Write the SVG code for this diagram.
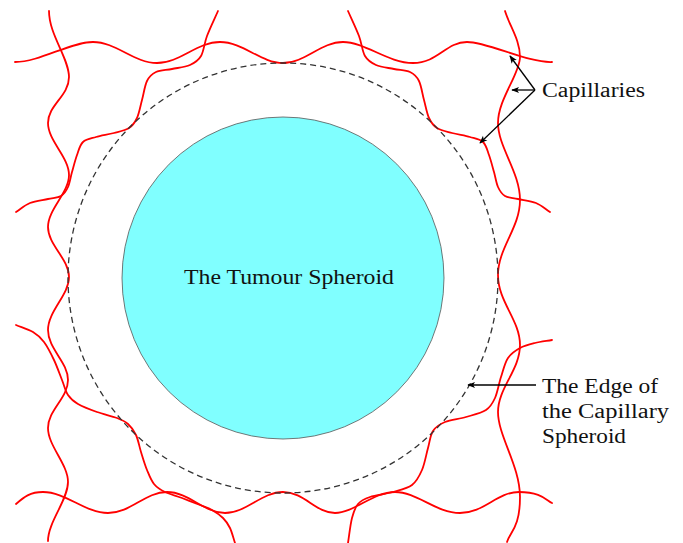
<svg xmlns="http://www.w3.org/2000/svg" width="683" height="543" viewBox="0 0 683 543">
<style>
.cap{fill:none;stroke:#ff0000;stroke-width:1.8;stroke-linecap:round;stroke-linejoin:round}
.lbl{font-family:"Liberation Serif","Times New Roman",serif;font-size:20px;fill:#111}
.arrow{fill:none;stroke:#000;stroke-width:1.3;marker-end:url(#arr)}
</style>
<defs>
<marker id="arr" viewBox="0 0 10 10" refX="9" refY="5" markerWidth="8" markerHeight="8" markerUnits="userSpaceOnUse" orient="auto">
<path d="M0,1 L10,5 L0,9 L2.5,5 z" fill="#000"/>
</marker>
</defs>
<rect width="683" height="543" fill="#fff"/>

<g id="capillaries">
<path class="cap" d="M15,62 C40,62 70,42 93,42 S134,63 157,63 S197,42 220,42 S261,63 283,63 S321,42 343,42 S388,63 413,63 S446,42 467,42 S528,63 552,62"/>
<path class="cap" d="M16,504 C24,497 30,492 43,492 C66,492 85,513 108,513 S145,492 167,492 S204,513 225,513 S262,492 283,492 S316,513 335,513 S373,492 395,492 S436,513 460,513 S497,492 519,492 S546,500 552,503"/>
<path class="cap" d="M49,11 C49,35 69,58 69,77 S48,105 48,123 S69,157 69,175 S48,209 48,227 S69,259 69,277 S48,311 48,330 S68,362 68,380 S48,410 48,428 S68,464 68,482 S48,522 48,541"/>
<path class="cap" d="M505,11 C510,27 520,40 520,57 S498,99 498,123 S520,172 520,200 S498,248 498,275 S520,320 520,345 S498,388 498,412 S520,466 520,497 S510,532 507,542"/>
<path id="stl" class="cap" d="M218,11 C214.3,19.3 209.8,28.5 207,36 S203.8,51.2 201,56 S194.8,62.8 190,65 S177.7,67.8 172,69 S160.2,70 156,72 S149.3,76.3 147,81 S143.7,93.8 142,100 S139.2,113.3 137,118 S132.8,125.5 129,128 S119.5,131.5 114,133 S101.2,135.5 96,137 S86.2,139 83,142 S78.8,150 77,155 S73.5,166.7 72,172 S69.8,183 68,187 S64.3,194 61,196 S53.2,197.8 48,199 S35.3,200.8 30,203 S20.7,209 16,212"/>
<path class="cap" transform="matrix(-1 0 0 1 566 0)" d="M218,11 C214.3,19.3 209.8,28.5 207,36 S203.8,51.2 201,56 S194.8,62.8 190,65 S177.7,67.8 172,69 S160.2,70 156,72 S149.3,76.3 147,81 S143.7,93.8 142,100 S139.2,113.3 137,118 S132.8,125.5 129,128 S119.5,131.5 114,133 S101.2,135.5 96,137 S86.2,139 83,142 S78.8,150 77,155 S73.5,166.7 72,172 S69.8,183 68,187 S64.3,194 61,196 S53.2,197.8 48,199 S35.3,200.8 30,203 S20.7,209 16,212"/>
<path class="cap" d="M16,325 C21.7,327.3 28.3,329.2 33,332 S40.5,337.3 44,342 S51,353.7 54,360 S59.7,374.2 62,380 S65.3,391 68,395 S73.2,401.2 78,404 S90.5,409.7 97,412 S111.8,416 117,418 S124.8,421.2 128,424 S133.8,430.3 136,435 S139.2,446.2 141,452 S144.8,464.7 147,470 S151,480.3 154,484 S160.3,489.7 165,492 S176.2,495.8 182,498 S195,503 200,505 S208.2,507.8 212,510 S220,515 223,518 S228,523.8 230,528 S233.3,538 235,543"/>
<path class="cap" d="M552,340 C546.3,341 540.3,341.7 535,343 S524.5,345.5 520,348 S511.2,353.2 508,358 S503.2,370.3 501,377 S497.5,392.5 495,398 S490.8,406.8 486,410 S472.8,415 466,417 S450.5,419.7 445,422 S435.8,426.7 433,431 S429.8,441.5 428,448 S424.7,463.8 422,470 S416.8,481.3 412,485 S400,490 393,492 S375.8,495 370,497 S361,500.5 358,504 S353.7,511.5 352,518 S349.3,534.7 348,543"/>
</g>

<g id="capillary-spheroid">
<circle cx="283" cy="278" r="215" fill="none" stroke="#333" stroke-width="1.3" stroke-dasharray="6 4"/>
</g>

<g id="tumour-spheroid">
<circle cx="283" cy="278" r="161" fill="#80ffff" stroke="#555" stroke-width="0.8"/>
<text class="lbl" x="184" y="284" textLength="210" lengthAdjust="spacingAndGlyphs">The Tumour Spheroid</text>
</g>

<g id="label-capillaries">
<text class="lbl" x="542" y="96.5" textLength="103" lengthAdjust="spacingAndGlyphs">Capillaries</text>
</g>

<g id="label-edge">
<text class="lbl" x="542" y="392.5" textLength="116" lengthAdjust="spacingAndGlyphs">The Edge of</text>
<text class="lbl" x="542" y="417.5" textLength="127" lengthAdjust="spacingAndGlyphs">the Capillary</text>
<text class="lbl" x="542" y="442.5" textLength="84" lengthAdjust="spacingAndGlyphs">Spheroid</text>
</g>

<g id="connectors">
<path class="arrow" d="M535,90 L510,56"/>
<path class="arrow" d="M535,90 L512,90"/>
<path class="arrow" d="M535,90 L480,143"/>
<path class="arrow" d="M536,385 L468,385"/>
</g>
</svg>
